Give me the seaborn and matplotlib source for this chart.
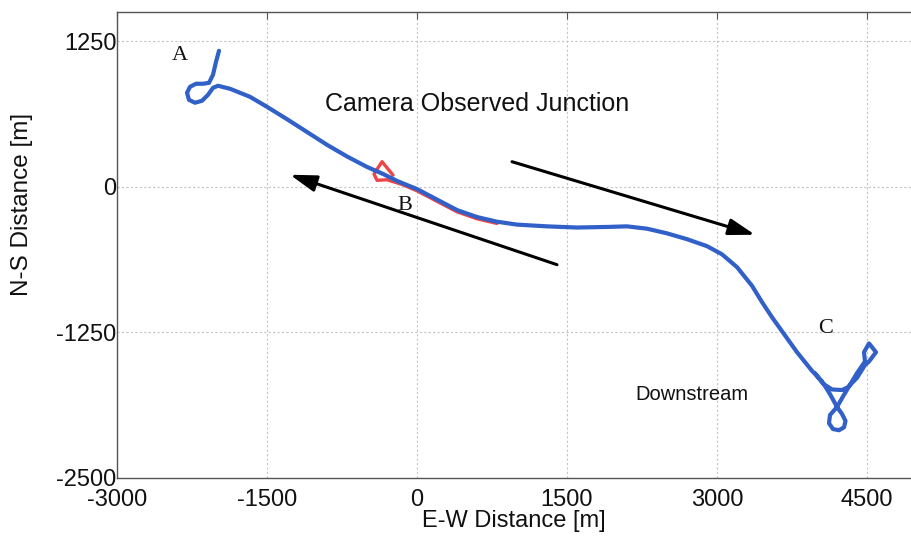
import matplotlib
matplotlib.use("Agg")
import matplotlib.pyplot as plt
import seaborn as sns
import pandas as pd

# ---- data ----
route_x = [-1980, -2010, -2040, -2080, -2140, -2210, -2270, -2300, -2280, -2220, -2150,
           -2090, -2040, -1990, -1870, -1670, -1500, -1300, -1100, -900, -700, -500,
           -340, -200, 0, 200, 400, 600, 800, 1000, 1300, 1600, 1900, 2100, 2300, 2500,
           2700, 2900, 3050, 3200, 3350, 3450, 3550, 3650, 3800, 3950, 4050, 4130, 4200,
           4250, 4285, 4270, 4220, 4160, 4120, 4130, 4200, 4260, 4330, 4400, 4480, 4470,
           4520, 4590, 4520, 4480, 4400, 4310, 4250, 4150, 4060, 3980]
route_y = [1167, 1072, 961, 892, 884, 884, 858, 806, 746, 721, 738,
           789, 849, 867, 841, 772, 686, 580, 470, 360, 260, 170,
           110, 50, -20, -110, -200, -260, -300, -325, -340, -350, -345, -340, -360, -400,
           -450, -510, -580, -690, -850, -990, -1120, -1240, -1420, -1580, -1670, -1780, -1890,
           -1950, -2010, -2065, -2090, -2080, -2030, -1960, -1890, -1800, -1700, -1600, -1500, -1420,
           -1345, -1420, -1500, -1530, -1640, -1720, -1745, -1740, -1690, -1600]

junction_x = [-240, -350, -430, -400, -300, -150, 0, 200, 400, 600, 800]
junction_y = [100, 215, 110, 55, 60, 20, -35, -125, -215, -275, -315]

arrow_tail_x = [1400, 950]
arrow_tail_y = [-669, 215]
arrow_tip_x = [-1270, 3380]
arrow_tip_y = [103, -412]

label_text = ["A", "B", "C"]
label_x = [-2370, -120, 4090]
label_y = [1129, -164, -1215]

x_ticks = [-3000, -1500, 0, 1500, 3000, 4500]
y_ticks = [-2500, -1250, 0, 1250]

# ---- figure ----
sns.set_style("white")
plt.rcParams['font.family'] = ['Liberation Sans', 'DejaVu Sans']

fig = plt.figure(figsize=(9.11, 5.44), dpi=100)
ax = fig.add_axes([117/911, 66/544, 794/911, 466/544])

route = pd.DataFrame({"x": route_x, "y": route_y})
junction = pd.DataFrame({"x": junction_x, "y": junction_y})

sns.lineplot(data=junction, x="x", y="y", sort=False, estimator=None,
             color="#ee4646", lw=2.4, ax=ax, zorder=3)
sns.lineplot(data=route, x="x", y="y", sort=False, estimator=None,
             color="#3060c8", lw=3.0, ax=ax, zorder=4)
ax.lines[-1].set_solid_joinstyle("round")
ax.lines[-1].set_solid_capstyle("round")

for tx, ty, hx, hy in zip(arrow_tail_x, arrow_tail_y, arrow_tip_x, arrow_tip_y):
    ax.annotate("", xy=(hx, hy), xytext=(tx, ty),
                arrowprops=dict(arrowstyle="-|>,head_length=0.8,head_width=0.25",
                                color="black", lw=2.2, mutation_scale=20,
                                shrinkA=0, shrinkB=0), zorder=5)

ax.text(600, 707, "Camera Observed Junction", fontsize=18, ha="center", va="center",
        color="#111111")
ax.text(2750, -1785, "Downstream", fontsize=14.5, ha="center", va="center",
        color="#111111")
for t, lx, ly in zip(label_text, label_x, label_y):
    ax.text(lx, ly, t, fontsize=16, ha="center", va="center",
            family=["Liberation Serif", "DejaVu Serif"], color="#111111")

ax.set_xlim(-3000, 4940)
ax.set_ylim(-2500, 1500)
ax.set_xticks(x_ticks)
ax.set_yticks(y_ticks)
ax.set_xticklabels([str(v) for v in x_ticks])
ax.set_yticklabels([str(v) for v in y_ticks])
ax.tick_params(axis="both", direction="in", length=5, width=0.8, color="#555555",
               labelsize=17, labelcolor="#111111", top=True, right=False)
ax.tick_params(axis="x", pad=8)
ax.tick_params(axis="y", pad=0.5)

ax.grid(True, color="#c4c4c4", linestyle=(0, (2, 2)), lw=0.8)
ax.set_axisbelow(True)
for side in ["left", "bottom", "top"]:
    ax.spines[side].set_color("#555555")
    ax.spines[side].set_linewidth(1.0)
ax.spines["right"].set_visible(False)

ax.set_xlabel("E-W Distance [m]", fontsize=17, color="#111111")
ax.set_ylabel("N-S Distance [m]", fontsize=17.5, color="#111111")
ax.xaxis.set_label_coords(0.5, -0.069)
ax.yaxis.set_label_coords(-0.106, 0.586)

fig.savefig("out.png", dpi=100)
